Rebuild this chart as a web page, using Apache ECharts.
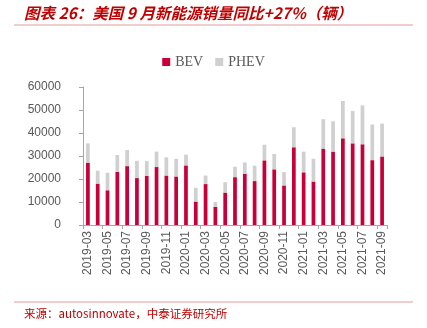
<!DOCTYPE html>
<html><head><meta charset="utf-8">
<script src="https://cdn.jsdelivr.net/npm/echarts@6/dist/echarts.min.js"></script>
<style>html,body{margin:0;padding:0;background:#fff}#c{width:427px;height:328px}</style>
</head><body><div id="c"></div>
<script>
const months = ["2019-03","2019-04","2019-05","2019-06","2019-07","2019-08","2019-09","2019-10","2019-11","2019-12",
"2020-01","2020-02","2020-03","2020-04","2020-05","2020-06","2020-07","2020-08","2020-09","2020-10","2020-11","2020-12",
"2021-01","2021-02","2021-03","2021-04","2021-05","2021-06","2021-07","2021-08","2021-09"];
const bev = [27100,18000,15100,23100,25600,20400,21400,25200,21500,21100,
25900,10200,17800,7900,14100,20800,22300,19100,28100,24200,17200,33800,
22900,18900,33200,31900,37700,35500,35100,28200,29800];
const phev = [8400,5600,7600,7300,7000,7500,6400,6700,7900,7700,
4700,6000,3700,2100,4500,4500,4900,6700,6800,6700,5800,8700,
9000,9900,12800,13200,16200,14100,16900,15500,14300];
const yTicks = {min:0,max:60000,interval:10000};

const chart = echarts.init(document.getElementById('c'));
chart.setOption({
  animation:false,
  legend:{top:50,left:'center',itemWidth:8,itemHeight:8,itemGap:12,icon:'rect',
    textStyle:{fontFamily:'Liberation Serif',fontSize:14,color:'#595959'},
    data:['BEV','PHEV']},
  grid:{left:83,right:40,top:87,bottom:103},
  xAxis:{type:'category',data:months,
    axisLine:{lineStyle:{color:'#a6a6a6'}},
    axisTick:{show:true,interval:1,length:4,lineStyle:{color:'#a6a6a6'}},
    axisLabel:{interval:1,rotate:90,fontFamily:'Liberation Sans',fontSize:12,color:'#595959',margin:6}},
  yAxis:{type:'value',min:yTicks.min,max:yTicks.max,interval:yTicks.interval,
    axisLine:{show:true,lineStyle:{color:'#a6a6a6'}},
    axisTick:{show:true,length:4,lineStyle:{color:'#a6a6a6'}},
    splitLine:{show:false},
    axisLabel:{fontFamily:'Liberation Sans',fontSize:12,color:'#595959',margin:22,formatter:v=>String(v)}},
  series:[
    {name:'BEV',type:'bar',stack:'a',data:bev,barWidth:'38%',itemStyle:{color:'#c8003a'}},
    {name:'PHEV',type:'bar',stack:'a',data:phev,barWidth:'38%',itemStyle:{color:'#d0d0d0'}}
  ],
  graphic:[
    {type:'text',left:24,top:5,style:{text:'图表 26：美国 9 月新能源销量同比+27%（辆）',
      font:'italic bold 15.5px "Noto Sans CJK SC", sans-serif',fill:'#c00000'}},
    {type:'line',shape:{x1:14,y1:25,x2:413,y2:25},style:{stroke:'#e39a9a',lineWidth:1}},
    {type:'line',shape:{x1:14,y1:302,x2:413,y2:302},style:{stroke:'#e39a9a',lineWidth:1}},
    {type:'text',left:24,top:308,style:{text:'来源：autosinnovate，中泰证券研究所',
      font:'11.5px "Noto Sans CJK SC", sans-serif',fill:'#c00000'}}
  ]
});
</script></body></html>
